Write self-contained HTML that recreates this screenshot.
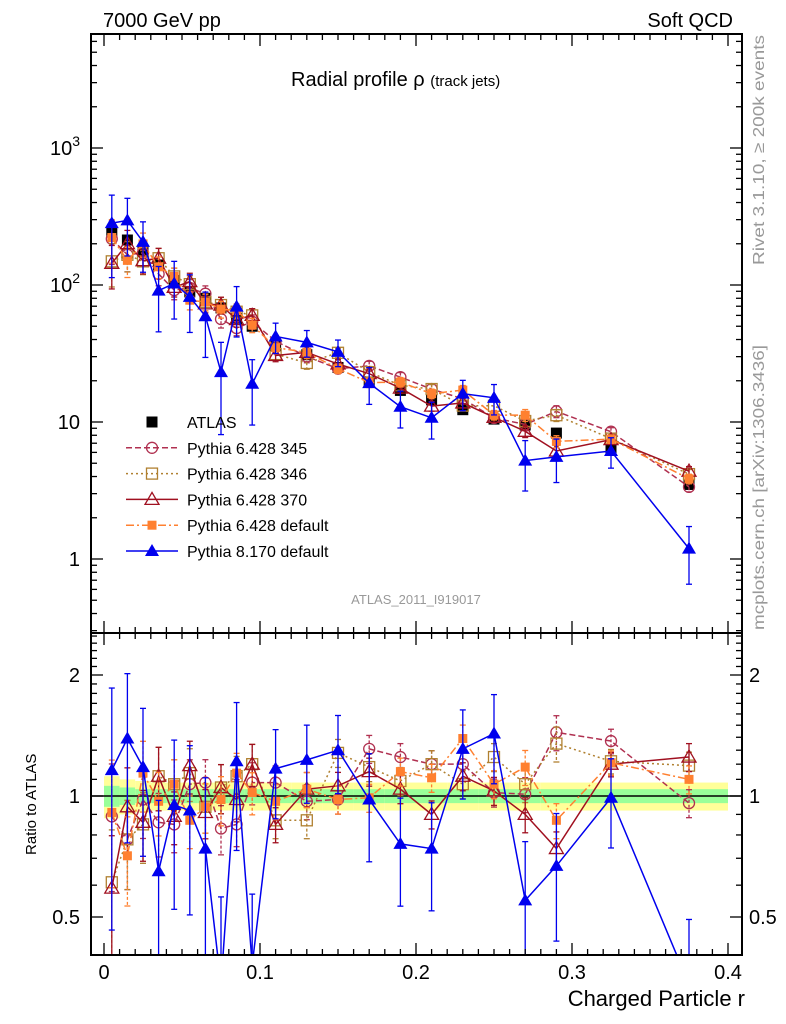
<!DOCTYPE html>
<html><head><meta charset="utf-8"><style>
html,body{margin:0;padding:0;background:#fff;overflow:hidden;}
svg{display:block;font-family:"Liberation Sans",sans-serif;}
</style></head><body>
<svg id="chart" width="786" height="1024" viewBox="0 0 786 1024" xmlns="http://www.w3.org/2000/svg">
<text x="103" y="27" font-size="20">7000 GeV pp</text>
<text x="733" y="27" font-size="20" text-anchor="end">Soft QCD</text>
<text x="291" y="86" font-size="20">Radial profile ρ <tspan font-size="15">(track jets)</tspan></text>
<text transform="translate(764,265) rotate(-90)" font-size="16" fill="#999" textLength="230" lengthAdjust="spacingAndGlyphs">Rivet 3.1.10, ≥ 200k events</text>
<text transform="translate(764,630) rotate(-90)" font-size="16" fill="#999" textLength="285" lengthAdjust="spacingAndGlyphs">mcplots.cern.ch [arXiv:1306.3436]</text>
<text x="416" y="604" font-size="13" fill="#999" text-anchor="middle">ATLAS_2011_I919017</text>
<text transform="translate(36,855) rotate(-90)" font-size="15">Ratio to ATLAS</text>
<text x="745" y="1006" font-size="22" text-anchor="end">Charged Particle r</text>
<g id="plots"></g>
</svg>
<script>
const xs = [0.005,0.015,0.025,0.035,0.045,0.055,0.065,0.075,0.085,0.095,0.11,0.13,0.15,0.17,0.19,0.21,0.23,0.25,0.27,0.29,0.325,0.375];
const atlas = [244,213,175,140,108,89,80,68,57,50,36,31,25,19.6,17,14.5,12.3,10.5,9.5,8.3,6.2,3.5];
const atlasYellow = [0.12,0.1,0.09,0.08,0.08,0.08,0.08,0.08,0.08,0.08,0.08,0.08,0.08,0.08,0.08,0.08,0.08,0.08,0.08,0.08,0.08,0.08];
const atlasGreen = [0.06,0.05,0.04,0.04,0.04,0.04,0.04,0.04,0.04,0.04,0.04,0.04,0.04,0.04,0.04,0.04,0.04,0.04,0.04,0.04,0.04,0.04];
const r345 = [0.89,0.78,0.98,0.86,0.85,1.07,1.08,0.83,0.85,1.08,1.08,0.97,0.98,1.31,1.25,1.20,1.20,1.02,1.01,1.44,1.37,0.96];
const r346 = [0.61,0.78,0.85,1.12,1.07,1.14,0.94,1.05,1.12,1.20,0.87,0.87,1.28,1.18,1.09,1.20,1.07,1.25,1.07,1.35,1.22,1.19];
const r370 = [0.59,0.94,0.86,1.12,0.89,1.19,0.91,1.05,0.98,1.20,0.85,1.04,1.06,1.15,1.04,0.90,1.12,1.03,0.90,0.74,1.20,1.25];
const r6def = [0.91,0.71,1.14,0.97,1.07,0.87,0.94,0.98,1.14,1.02,0.97,1.04,0.98,0.99,1.15,1.11,1.39,1.07,1.18,0.87,1.21,1.10];
const r8def = [1.16,1.39,1.18,0.65,0.95,0.92,0.74,0.34,1.22,0.38,1.17,1.23,1.30,0.98,0.76,0.74,1.31,1.43,0.55,0.67,0.99,0.34];
const errP6 = [0.35,0.25,0.2,0.18,0.15,0.15,0.14,0.14,0.12,0.12,0.1,0.1,0.08,0.08,0.08,0.08,0.08,0.08,0.1,0.1,0.07,0.08];
const errP8 = [0.6,0.45,0.4,0.5,0.45,0.45,0.5,0.65,0.4,0.5,0.25,0.22,0.22,0.3,0.3,0.3,0.25,0.25,0.4,0.35,0.25,0.45];
const legendLabels = ["ATLAS","Pythia 6.428 345","Pythia 6.428 346","Pythia 6.428 370","Pythia 6.428 default","Pythia 8.170 default"];
const xTicks = [0,0.1,0.2,0.3,0.4];
const xTickLabels = ["0","0.1","0.2","0.3","0.4"];
const mainTicks = [1,10,100,1000];
const mainTickLabels = ["1","10","10<sup>2</sup>","10<sup>3</sup>"];
const ratioTicks = [0.5,1,2];
const ratioTickLabels = ["0.5","1","2"];

const NS="http://www.w3.org/2000/svg";
const L=91,R=742,T=34,MID=633,B=955;
const X=v=>104+v*1560;
const YM=v=>559-Math.log10(v)*137;
const YR=v=>796-Math.log2(v)*121;
const clampM=y=>Math.max(T,Math.min(MID,y));
const clampR=y=>Math.max(MID,Math.min(B,y));
const g=document.getElementById('plots');
function mk(tag,attrs,parent){const e=document.createElementNS(NS,tag);for(const k in attrs)e.setAttribute(k,attrs[k]);(parent||g).appendChild(e);return e;}

const defs=mk('defs',{});
const c1=mk('clipPath',{id:'cm'},defs);mk('rect',{x:L,y:T,width:R-L,height:MID-T},c1);
const c2=mk('clipPath',{id:'cr'},defs);mk('rect',{x:L,y:MID,width:R-L,height:B-MID},c2);

const gb=mk('g',{'clip-path':'url(#cr)'});


xs.forEach((x,i)=>{
  const x0=X(i==0?0:(i<10?x-0.005:(i<20?x-0.01:x-0.025))), x1=X(i<10?x+0.005:(i<20?x+0.01:x+0.025));
  mk('rect',{x:x0,y:YR(1+atlasYellow[i]),width:x1-x0,height:YR(1-atlasYellow[i])-YR(1+atlasYellow[i]),fill:'#ffff99'},gb);
  mk('rect',{x:x0,y:YR(1+atlasGreen[i]),width:x1-x0,height:YR(1-atlasGreen[i])-YR(1+atlasGreen[i]),fill:'#99ff99'},gb);
});
mk('line',{x1:L,x2:R,y1:YR(1),y2:YR(1),stroke:'#000','stroke-width':1.5},gb);

function marker(parent,type,x,y,color){
  const s=5.5;
  if(type=='sq') mk('rect',{x:x-s,y:y-s,width:2*s,height:2*s,fill:'#000'},parent);
  else if(type=='circ') mk('circle',{cx:x,cy:y,r:s,fill:'none',stroke:color,'stroke-width':1.3},parent);
  else if(type=='osq') mk('rect',{x:x-s,y:y-s,width:2*s,height:2*s,fill:'none',stroke:color,'stroke-width':1.3},parent);
  else if(type=='otri') mk('polygon',{points:`${x},${y-7} ${x-7},${y+5} ${x+7},${y+5}`,fill:'none',stroke:color,'stroke-width':1.3},parent);
  else if(type=='fsq') mk('rect',{x:x-4.5,y:y-4.5,width:9,height:9,fill:color},parent);
  else if(type=='ftri') mk('polygon',{points:`${x},${y-7} ${x-7},${y+5} ${x+7},${y+5}`,fill:color},parent);
}
const series=[
 {name:'pythia6-345',r:r345,err:errP6,color:'#b03050',dash:'6,3',m:'circ'},
 {name:'pythia6-346',r:r346,err:errP6,color:'#b08030',dash:'2,3',m:'osq'},
 {name:'pythia6-370',r:r370,err:errP6,color:'#a01020',dash:'',m:'otri'},
 {name:'pythia6-default',r:r6def,err:errP6,color:'#ff8030',dash:'8,3,2,3',m:'fsq'},
 {name:'pythia8-default',r:r8def,err:errP8,color:'#0000ee',dash:'',m:'ftri'}
];
function drawSeries(s,panel){
  const par=mk('g',{'clip-path':panel=='main'?'url(#cm)':'url(#cr)'});
  
  
  const Yv=panel=='main'?(v=>YM(v)):(v=>YR(v));
  const C=panel=='main'?clampM:clampR;
  const base=i=>panel=='main'?atlas[i]*s.r[i]:s.r[i];
  const Y=i=>Yv(base(i));
  // polyline clipped by clip-path; keep points but limit extreme
  const pts=xs.map((x,i)=>X(x)+','+Math.min(Y(i),B+300)).join(' ');
  mk('polyline',{points:pts,fill:'none',stroke:s.color,'stroke-width':1.5,'stroke-dasharray':s.dash},par);
  xs.forEach((x,i)=>{
    const v=base(i),e=s.err[i];
    const yt=C(Yv(v*(1+e))),yb=C(Yv(Math.max(v*(1-e),1e-3)));
    mk('line',{x1:X(x),x2:X(x),y1:yt,y2:yb,stroke:s.color,'stroke-width':1.3,'stroke-dasharray':s.dash?'3,2':''},par);
    mk('line',{x1:X(x)-3,x2:X(x)+3,y1:yt,y2:yt,stroke:s.color,'stroke-width':1.3},par);
    mk('line',{x1:X(x)-3,x2:X(x)+3,y1:yb,y2:yb,stroke:s.color,'stroke-width':1.3},par);
    const ym=Y(i);
    if(ym>=T&&ym<=B) marker(par,s.m,X(x),ym,s.color);
  });
}
const ga=mk('g',{'clip-path':'url(#cm)'});


xs.forEach((x,i)=>{
  const v=atlas[i];
  mk('line',{x1:X(x),x2:X(x),y1:YM(v*(1+atlasYellow[i])),y2:YM(v*(1-atlasYellow[i])),stroke:'#000','stroke-width':1.3},ga);
  marker(ga,'sq',X(x),YM(v));
});
series.forEach(s=>{drawSeries(s,'main');drawSeries(s,'ratio');});

const ax=mk('g',{});


mk('rect',{x:L,y:T,width:R-L,height:MID-T,fill:'none',stroke:'#000','stroke-width':2},ax);
mk('rect',{x:L,y:MID,width:R-L,height:B-MID,fill:'none',stroke:'#000','stroke-width':2},ax);
function tick(x1,y1,x2,y2){mk('line',{x1,y1,x2,y2,stroke:'#000','stroke-width':1.3},ax);}
for(let k=0;k<=40;k++){const x=X(k*0.01);const l=k%10==0?12:6;
  tick(x,B,x,B-l);tick(x,MID,x,MID+l);tick(x,MID,x,MID-l);tick(x,T,x,T+l);}
for(let d=-1;d<=3;d++)for(let m=1;m<=9;m++){const v=m*Math.pow(10,d);const y=YM(v);if(y<T||y>MID)continue;const l=m==1?12:6;tick(L,y,L+l,y);tick(R,y,R-l,y);}
[0.4,0.5,0.6,0.7,0.8,0.9,1,1.1,1.2,1.3,1.4,1.5,1.6,1.7,1.8,1.9,2,2.1,2.2,2.3,2.4,2.5].forEach(v=>{const y=YR(v);if(y<MID||y>B)return;const l=(v==0.5||v==1||v==2)?12:6;tick(L,y,L+l,y);tick(R,y,R-l,y);});

function txt(x,y,size,anchor,name){const t=mk('text',{x,y,'font-size':size,'text-anchor':anchor},ax);return t;}
xTicks.forEach((v,i)=>{txt(X(v),979,20,'middle','x-tick-label').textContent=xTickLabels[i];});
mainTicks.forEach((v,i)=>{const t=txt(80,YM(v)+7,20,'end','main-y-tick-label');
  const lab=mainTickLabels[i];if(lab.indexOf('<sup>')>=0){const p=lab.split('<sup>');t.textContent=p[0];const ts=mk('tspan',{'font-size':14,dy:-9},t);ts.textContent=p[1].replace('</sup>','');}else t.textContent=lab;});
ratioTicks.forEach((v,i)=>{txt(80,YR(v)+7,20,'end','ratio-y-tick-label-left').textContent=ratioTickLabels[i];
  txt(749,YR(v)+7,20,'start','ratio-y-tick-label-right').textContent=ratioTickLabels[i];});

const lg=mk('g',{});


const legendStyles=[{m:'sq',color:'#000',dash:null}].concat(series.map(s=>({m:s.m,color:s.color,dash:s.dash})));
legendLabels.forEach((lab,i)=>{
  const y=422+i*25.8;
  const e=mk('g',{},lg);
  
  
  const st=legendStyles[i];
  if(st.dash!==null) mk('line',{x1:126,x2:178,y1:y,y2:y,stroke:st.color,'stroke-width':1.5,'stroke-dasharray':st.dash},e);
  marker(e,st.m,152,y,st.color);
  const t=mk('text',{x:187,y:y+6,'font-size':16},e);t.textContent=lab;
});
</script>
</body></html>
